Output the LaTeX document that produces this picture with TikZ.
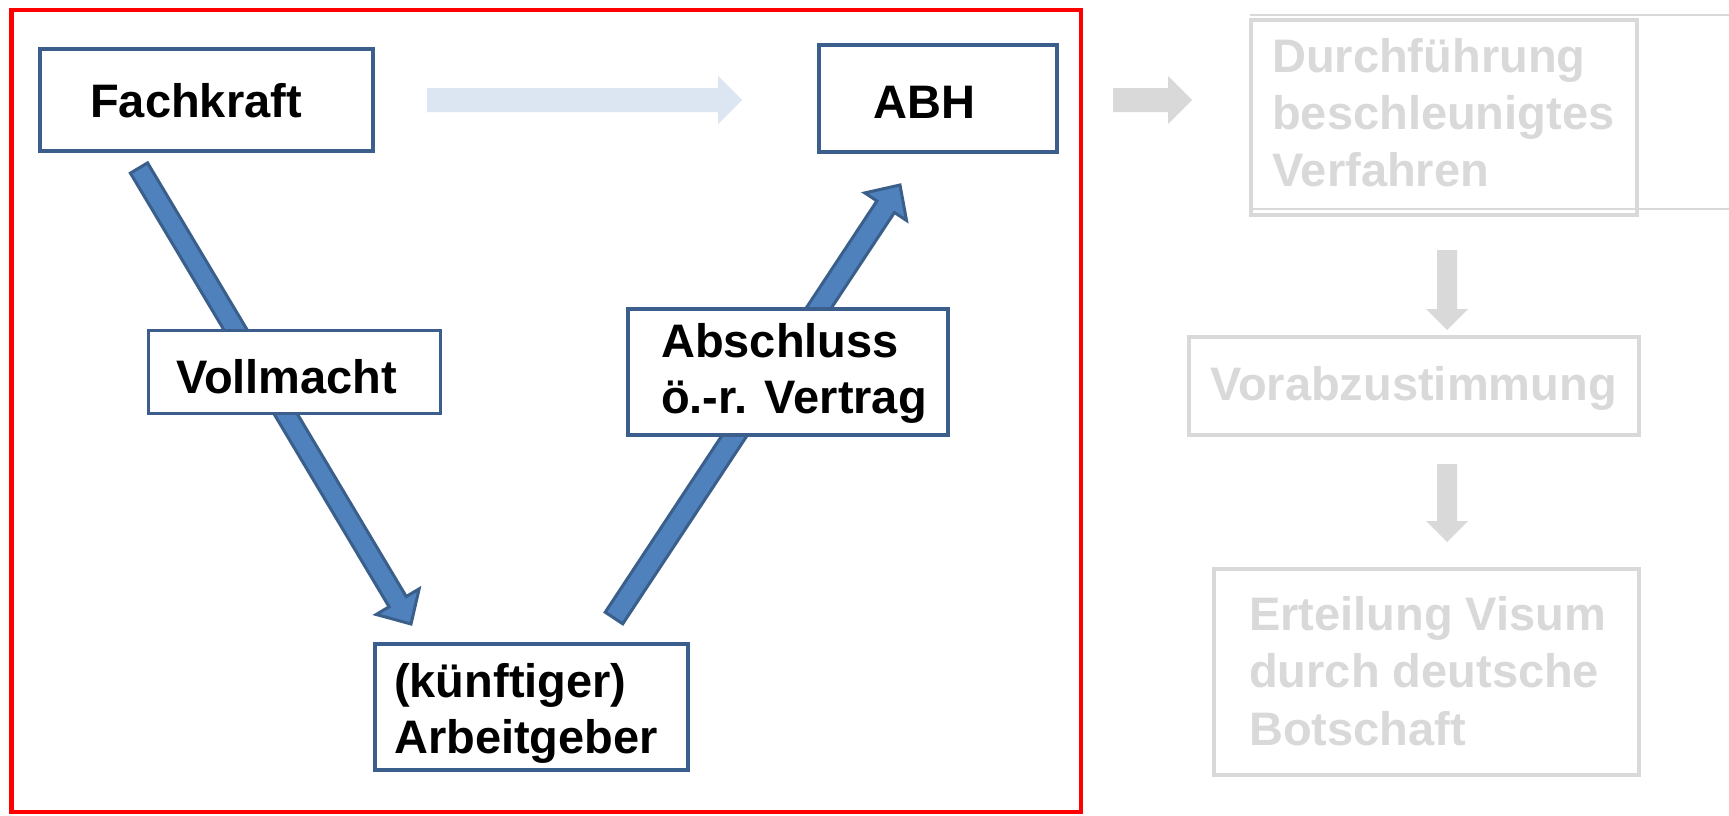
\documentclass[tikz,border=0pt]{standalone}
\usepackage{fontspec}
\setmainfont{Liberation Sans}
\usetikzlibrary{calc}
\definecolor{boxblue}{HTML}{3B5E8C}
\definecolor{arrfill}{HTML}{4F81BD}
\definecolor{arrline}{HTML}{3A5F8B}
\definecolor{lightblue}{HTML}{DCE6F2}
\definecolor{fadegrey}{HTML}{D9D9D9}
\newcommand\blockarr[6]{%
  \coordinate (bh) at ($(#3)!#6!(#2)$);
  \path[#1] ($(#2)!#4!90:(#3)$) -- ($(bh)!#4!90:(#3)$) -- ($(bh)!#5!90:(#3)$) -- (#3)
    -- ($(bh)!#5!-90:(#3)$) -- ($(bh)!#4!-90:(#3)$) -- ($(#2)!#4!-90:(#3)$) -- cycle;
}
\begin{document}
\begin{tikzpicture}[x=1pt,y=-1pt,
  every node/.style={font=\bfseries\fontsize{47pt}{56pt}\selectfont},
  bluebox/.style={draw=boxblue,line width=4pt,fill=white,rectangle,inner sep=0pt},
  greybox/.style={draw=fadegrey,line width=4pt,rectangle,inner sep=0pt},
  txt/.style={anchor=base west,inner sep=0pt,text=black},
  greytxt/.style={anchor=base west,inner sep=0pt,text=fadegrey},
  bluearrow/.style={fill=arrfill,draw=arrline,line width=3pt,line join=miter},
  lightarrow/.style={fill=lightblue},
  greyarrow/.style={fill=fadegrey}]
\useasboundingbox (0,0) rectangle (1729,816);
\fill[white] (0,0) rectangle (1729,816);

% red frame
\draw[red,line width=4.5pt] (11.25,10.25) rectangle (1080.75,811.75);

% arrow end points
\coordinate (a1t) at (139,168);
\coordinate (a1h) at (411,624);
\coordinate (a2t) at (614,618);
\coordinate (a2h) at (900,185);
\coordinate (l1t) at (427,100);
\coordinate (l1h) at (742,100);
\coordinate (g1t) at (1113,100);
\coordinate (g1h) at (1192,100);
\coordinate (g2t) at (1447,250);
\coordinate (g2h) at (1447,330);
\coordinate (g3t) at (1447,464);
\coordinate (g3h) at (1447,542);

% blue arrows (behind label boxes)
\blockarr{bluearrow}{a1t}{a1h}{10pt}{25pt}{26pt}
\blockarr{bluearrow}{a2t}{a2h}{10.5pt}{25pt}{26pt}
% light arrow
\blockarr{lightarrow}{l1t}{l1h}{12pt}{24pt}{24pt}
% grey arrows
\blockarr{greyarrow}{g1t}{g1h}{12pt}{24pt}{24pt}
\blockarr{greyarrow}{g2t}{g2h}{10pt}{21pt}{21pt}
\blockarr{greyarrow}{g3t}{g3h}{10pt}{21pt}{21pt}

% blue boxes
\node[bluebox,minimum width=333pt,minimum height=102pt] (fk) at (206.5,100) {};
\node[bluebox,minimum width=238pt,minimum height=107pt] (abh) at (938,98.5) {};
\node[bluebox,line width=3pt,minimum width=292pt,minimum height=83pt] (vm) at (294.5,372) {};
\node[bluebox,minimum width=320pt,minimum height=126pt] (av) at (788,372) {};
\node[bluebox,minimum width=313pt,minimum height=126pt] (ag) at (531.5,707) {};

% grey boxes
\draw[fadegrey,line width=1.5pt] (1250,15) -- (1735,15) (1252,209) -- (1735,209);
\node[greybox,minimum width=386pt,minimum height=195pt] (dv) at (1444,117.5) {};
\node[greybox,minimum width=450pt,minimum height=98pt] (vz) at (1414,386) {};
\node[greybox,minimum width=425pt,minimum height=206pt] (ev) at (1426.5,672) {};

% texts
\node[txt] (fkT) at (90,117) {Fachkraft};
\node[txt] (abhT) at (873,118) {ABH};
\node[txt] (vmT) at (176,393) {Vollmacht};
\node[txt] (avT) at (661,357) {\vtop{\baselineskip=56pt\hbox{Abschluss}\hbox{ö.-r. Vertrag}}};
\node[txt] (agT) at (394,697) {\vtop{\baselineskip=56pt\hbox{(künftiger)}\hbox{Arbeitgeber}}};
\node[greytxt] (dvT) at (1272,72) {\vtop{\baselineskip=57.5pt\hbox{Durchführung}\hbox{beschleunigtes}\hbox{Verfahren}}};
\node[greytxt] (vzT) at (1210,400) {Vorabzustimmung};
\node[greytxt] (evT) at (1249,630) {\vtop{\baselineskip=57.5pt\hbox{Erteilung Visum}\hbox{durch deutsche}\hbox{Botschaft}}};
\end{tikzpicture}
\end{document}
